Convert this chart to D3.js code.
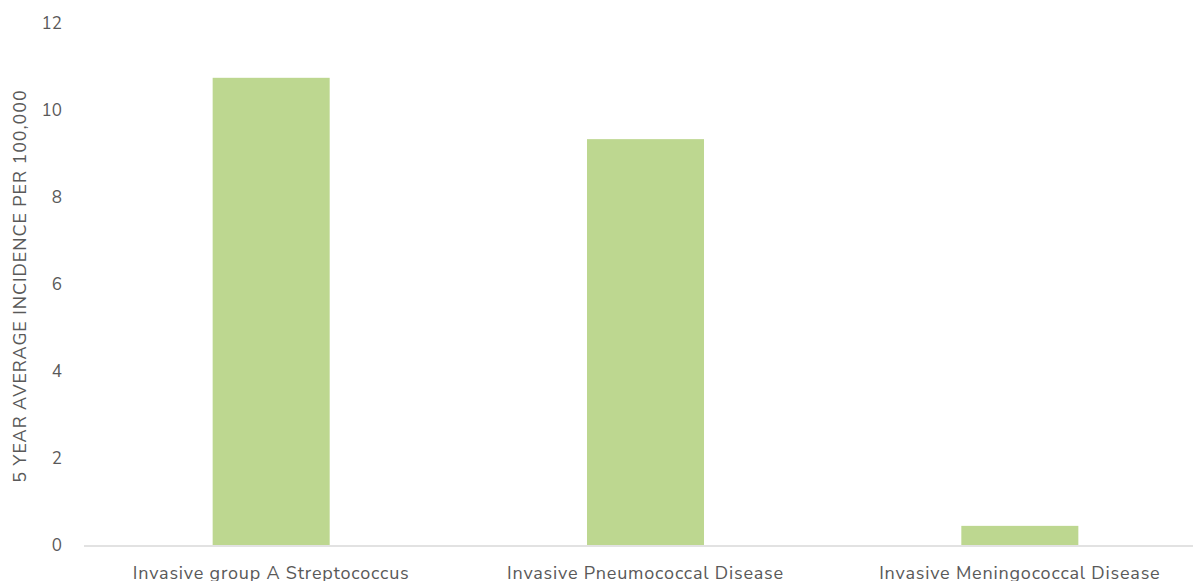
<!DOCTYPE html>
<html><head><meta charset="utf-8">
<script src="https://cdn.jsdelivr.net/npm/d3@7"></script>
<style>body{margin:0;background:#fff}svg{display:block;font-family:"Nunito Sans","Open Sans",Lato,sans-serif}</style>
</head><body>
<svg id="c" width="1193" height="581"></svg>
<script>
const categories = ["Invasive group A Streptococcus","Invasive Pneumococcal Disease","Invasive Meningococcal Disease"];
const values = [10.74, 9.33, 0.44];
const yTicks = [0,2,4,6,8,10,12];
const yTitle = "5 YEAR AVERAGE INCIDENCE PER 100,000";

const svg = d3.select("#c");
const x = d3.scaleBand().domain(categories).range([84,1207]).paddingInner(0.6874).paddingOuter(0.3437);
const y = d3.scaleLinear().domain([0,12]).range([545,23]);

svg.selectAll("rect.bar").data(values).enter().append("rect")
  .attr("class","bar")
  .attr("x",(d,i)=>x(categories[i]))
  .attr("width",x.bandwidth())
  .attr("y",d=>y(d))
  .attr("height",d=>y(0)-y(d))
  .attr("fill","#bdd790");

svg.append("line").attr("x1",84).attr("x2",1193).attr("y1",y(0)+1).attr("y2",y(0)+1)
  .attr("stroke","#d9d9d9").attr("stroke-width",1.5);

svg.selectAll("text.yt").data(yTicks).enter().append("text")
  .attr("class","yt").attr("x",62).attr("y",d=>y(d)).attr("dy","0.35em")
  .attr("text-anchor","end").attr("font-size",17).attr("fill","#595959").text(d=>d);

svg.selectAll("text.xt").data(categories).enter().append("text")
  .attr("class","xt").attr("x",d=>x(d)+x.bandwidth()/2).attr("y",579)
  .attr("text-anchor","middle").attr("font-size",18).attr("letter-spacing",0.8)
  .attr("fill","#595959").text(d=>d);

svg.append("text").attr("transform","translate(26,286) rotate(-90)")
  .attr("text-anchor","middle").attr("font-size",18).attr("letter-spacing",0.9)
  .attr("fill","#595959").text(yTitle);
</script>
</body></html>
